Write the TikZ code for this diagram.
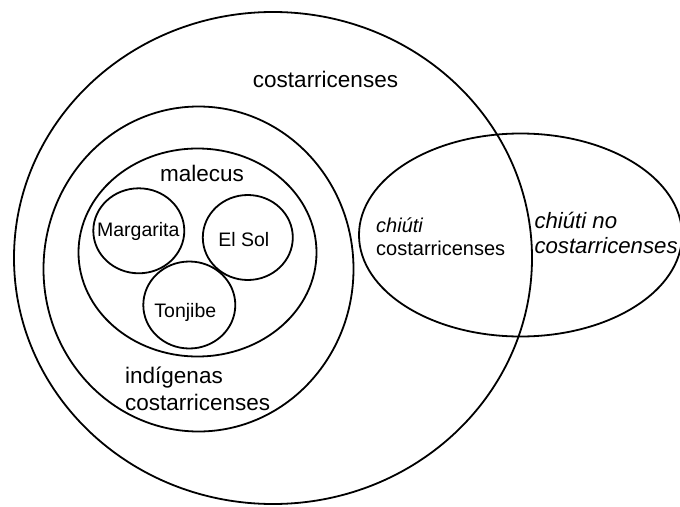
\documentclass[tikz,border=0pt]{standalone}
\usepackage{fontspec}
\setmainfont{Liberation Sans}
\usetikzlibrary{shapes.geometric}
\begin{document}
\begin{tikzpicture}[x=1pt,y=-1pt,
  setshape/.style={draw=black, line width=1.8pt, ellipse, inner sep=0pt},
  biglabel/.style={inner sep=0pt, font=\fontsize{22.5}{26.7}\selectfont},
  smalllabel/.style={inner sep=0pt, font=\fontsize{19.5}{23.3}\selectfont},
]
\useasboundingbox (0,0) rectangle (680,506);

% sets
\node[setshape, minimum width=518pt, minimum height=492pt] (costarricenses) at (273,258) {};
\node[setshape, minimum width=310pt, minimum height=325pt] (indigenas) at (198.5,269) {};
\node[setshape, minimum width=238pt, minimum height=208pt] (malecus) at (197.5,252.5) {};
\node[setshape, minimum width=91pt, minimum height=85pt] (margarita) at (138.8,230.8) {};
\node[setshape, minimum width=90pt, minimum height=85pt] (elsol) at (247.8,237.5) {};
\node[setshape, minimum width=92pt, minimum height=87pt] (tonjibe) at (189.3,305) {};
\node[setshape, minimum width=323pt, minimum height=203pt] (chiuti) at (520.5,235) {};

% labels
\node[biglabel] (lcr) at (325.5,79) {costarricenses};
\node[biglabel] (lmal) at (202,173.5) {malecus};
\node[smalllabel] (lmar) at (138.3,231.7) {Margarita};
\node[smalllabel] (lsol) at (243.8,239.3) {El Sol};
\node[smalllabel] (lton) at (185.3,312.7) {Tonjibe};
\node[biglabel, anchor=west, align=left] (lind) at (125,388.5) {indígenas\\costarricenses};
\node[inner sep=0pt, anchor=west, align=left, font=\fontsize{20}{23.3}\selectfont] (lchc) at (376,236.7) {\textit{chiúti}\\costarricenses};
\node[inner sep=0pt, anchor=west, align=left, font=\fontsize{22.2}{25}\selectfont\itshape] (lchn) at (534.3,232.5) {chiúti no\\costarricenses};
\end{tikzpicture}
\end{document}
